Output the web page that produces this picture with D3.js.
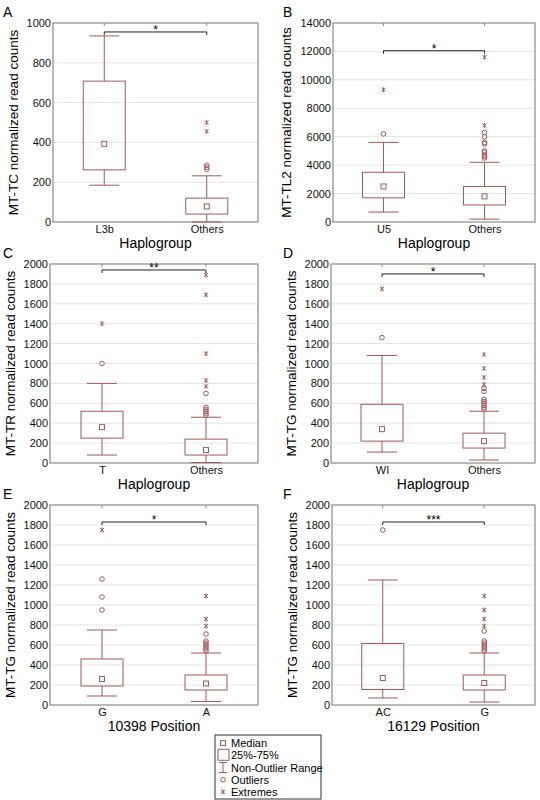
<!DOCTYPE html>
<html><head><meta charset="utf-8">
<script src="https://cdn.jsdelivr.net/npm/d3@7"></script>
<style>body{margin:0;background:#fff}svg{font-family:"Liberation Sans",Arial,sans-serif}</style>
</head><body><svg id="c" width="540" height="800"></svg>
<script>
const panelLetters = ["A","B","C","D","E","F"];
const yLabels = ["MT-TC normalized read counts","MT-TL2 normalized read counts","MT-TR normalized read counts","MT-TG normalized read counts","MT-TG normalized read counts","MT-TG normalized read counts"];
const xLabels = ["Haplogroup","Haplogroup","Haplogroup","Haplogroup","10398 Position","16129 Position"];
const categories = [["L3b","Others"],["U5","Others"],["T","Others"],["WI","Others"],["G","A"],["AC","G"]];
const yMax = [1000,14000,2000,2000,2000,2000];
const yStep = [200,2000,200,200,200,200];
const signif = ["*","*","**","*","*","***"];
const bracketY = [955,12050,1940,1900,1830,1830];
// [median, q1, q3, whiskerMin, whiskerMax]
const stats = [
 [[393,262,708,185,935],[78,40,120,0,232]],
 [[2500,1700,3500,700,5600],[1800,1200,2500,200,4200]],
 [[360,250,520,80,800],[130,80,240,5,460]],
 [[340,220,590,110,1080],[220,150,300,30,520]],
 [[260,190,460,90,750],[215,150,300,35,520]],
 [[270,155,615,70,1250],[220,150,300,30,520]]
];
const outliers = [
 [[],[285,275,265]],
 [[6200],[6300,6000,5600,5500,5000,4900,4700,4600,4500]],
 [[1000],[700,560,540,520,500,480]],
 [[1260],[750,720,640,620,600,580,560,540]],
 [[1260,1080,950],[710,640,620,600,580,560,540]],
 [[1750],[740,640,620,600,580,560,540]]
];
const extremes = [
 [[],[500,455]],
 [[9300],[11600,6800]],
 [[1400],[1890,1690,1100,830,770]],
 [[1750],[1090,950,860,790]],
 [[1750],[1090,860,790]],
 [[],[1090,950,860,790]]
];
const frames = [
 {l:53,r:258,t:23,b:222,lx:3,ly:17,lo:35},
 {l:333,r:535,t:23,b:222,lx:283,ly:17,lo:42},
 {l:50,r:258,t:264,b:463,lx:3,ly:258,lo:35},
 {l:331,r:535,t:264,b:463,lx:283,ly:258,lo:35},
 {l:50,r:258,t:505,b:705,lx:3,ly:499,lo:35},
 {l:332,r:535,t:505,b:705,lx:283,ly:499,lo:35}
];
const col = "#a3585a";
const svg = d3.select("#c");
frames.forEach((f,i)=>{
  const g = svg.append("g");
  const x = d3.scalePoint().domain(categories[i]).range([f.l,f.r]).padding(0.5);
  const y = d3.scaleLinear().domain([0,yMax[i]]).range([f.b,f.t]);
  const ticks = d3.range(0,yMax[i]+1,yStep[i]);
  g.selectAll(".grid").data(ticks.slice(1,-1)).join("line")
    .attr("x1",f.l).attr("x2",f.r).attr("y1",d=>y(d)).attr("y2",d=>y(d))
    .attr("stroke","#e4e4e4").attr("stroke-width",1);
  const ya = g.append("g").attr("transform",`translate(${f.l},0)`)
    .call(d3.axisLeft(y).tickValues(ticks).tickFormat(d3.format("d")).tickSize(0).tickPadding(2));
  ya.select(".domain").remove();
  ya.selectAll("text").attr("font-size",11).attr("fill","#111");
  const xa = g.append("g").attr("transform",`translate(0,${f.b})`)
    .call(d3.axisBottom(x).tickSize(0).tickPadding(3));
  xa.select(".domain").remove();
  xa.selectAll("text").attr("font-size",11).attr("fill","#111");
  g.selectAll(".tt").data(categories[i]).join("line")
    .attr("x1",d=>x(d)).attr("x2",d=>x(d)).attr("y1",f.t).attr("y2",f.t+3).attr("stroke","#888");
  g.append("rect").attr("x",f.l).attr("y",f.t).attr("width",f.r-f.l).attr("height",f.b-f.t)
    .attr("fill","none").attr("stroke","#8a8a8a").attr("stroke-width",1.2);
  g.append("text").attr("x",f.lx).attr("y",f.ly).attr("font-size",14).text(panelLetters[i]);
  g.append("text").attr("transform",`translate(${f.l-f.lo},${(f.t+f.b)/2}) rotate(-90)`)
    .attr("text-anchor","middle").attr("font-size",13.5).text(yLabels[i]);
  g.append("text").attr("x",(f.l+f.r)/2).attr("y",f.b+26).attr("text-anchor","middle")
    .attr("font-size",14).text(xLabels[i]);
  const bw = 42, cw = 30;
  categories[i].forEach((c,j)=>{
    const s = stats[i][j], cx = x(c);
    g.append("line").attr("x1",cx).attr("x2",cx).attr("y1",y(s[3])).attr("y2",y(s[1])).attr("stroke",col);
    g.append("line").attr("x1",cx).attr("x2",cx).attr("y1",y(s[2])).attr("y2",y(s[4])).attr("stroke",col);
    [s[3],s[4]].forEach(v=>g.append("line").attr("x1",cx-cw/2).attr("x2",cx+cw/2).attr("y1",y(v)).attr("y2",y(v)).attr("stroke",col));
    g.append("rect").attr("x",cx-bw/2).attr("y",y(s[2])).attr("width",bw).attr("height",y(s[1])-y(s[2]))
      .attr("fill","none").attr("stroke",col);
    g.append("rect").attr("x",cx-2.5).attr("y",y(s[0])-2.5).attr("width",5).attr("height",5).attr("fill","none").attr("stroke",col);
    outliers[i][j].forEach(v=>g.append("circle").attr("cx",cx).attr("cy",y(v)).attr("r",2.3).attr("fill","none").attr("stroke",col));
    extremes[i][j].forEach(v=>{
      const yy=y(v);
      g.append("path").attr("d",`M${cx-2},${yy-2}L${cx+2},${yy+2}M${cx-2},${yy+2}L${cx+2},${yy-2}M${cx},${yy-2.5}L${cx},${yy+2.5}`).attr("stroke",col).attr("stroke-width",1);
    });
  });
  const by = y(bracketY[i]), x0 = x(categories[i][0]), x1 = x(categories[i][1]);
  g.append("path").attr("d",`M${x0},${by+3}L${x0},${by}L${x1},${by}L${x1},${by+3}`).attr("fill","none").attr("stroke","#222");
  g.append("text").attr("x",(x0+x1)/2).attr("y",by+2).attr("text-anchor","middle").attr("font-size",12).text(signif[i]);
});
const legendItems = ["Median","25%-75%","Non-Outlier Range","Outliers","Extremes"];
const lg = svg.append("g");
lg.append("rect").attr("x",215).attr("y",735).attr("width",106).attr("height",64).attr("fill","#fff").attr("stroke","#333");
const ly = d3.scaleBand().domain(legendItems).range([737,798]);
legendItems.forEach((t,k)=>{
  const cy = ly(t)+ly.bandwidth()/2, sx=223;
  lg.append("text").attr("x",231).attr("y",cy+4).attr("font-size",11).text(t);
  if(k===0) lg.append("rect").attr("x",sx-2.5).attr("y",cy-2.5).attr("width",5).attr("height",5).attr("fill","none").attr("stroke",col);
  if(k===1) lg.append("rect").attr("x",sx-5).attr("y",cy-6).attr("width",11).attr("height",11).attr("fill","none").attr("stroke",col);
  if(k===2) lg.append("path").attr("d",`M${sx-4},${cy-5}H${sx+4}M${sx},${cy-5}V${cy+5}M${sx-4},${cy+5}H${sx+4}`).attr("stroke",col).attr("fill","none");
  if(k===3) lg.append("circle").attr("cx",sx).attr("cy",cy).attr("r",2.3).attr("fill","none").attr("stroke",col);
  if(k===4) lg.append("path").attr("d",`M${sx-2},${cy-2}L${sx+2},${cy+2}M${sx-2},${cy+2}L${sx+2},${cy-2}M${sx},${cy-2.5}L${sx},${cy+2.5}`).attr("stroke",col);
});
</script></body></html>
